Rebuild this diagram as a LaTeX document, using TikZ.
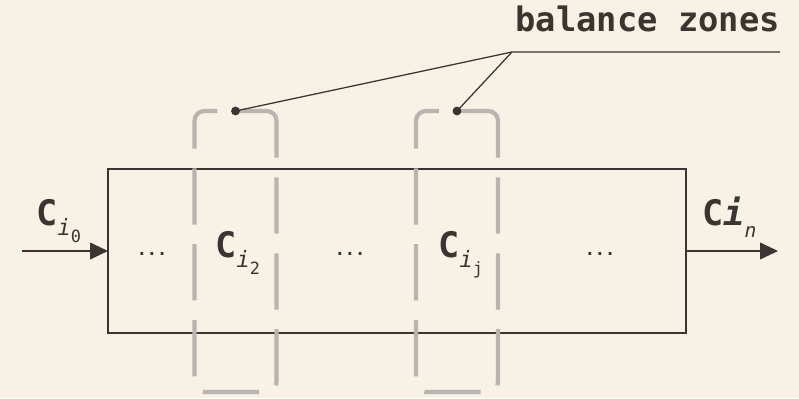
\documentclass[tikz,border=0pt]{standalone}
\usepackage{fontspec}
\setmonofont{DejaVu Sans Mono}
\usetikzlibrary{arrows.meta,positioning}
\definecolor{paper}{HTML}{F8F1E5}
\definecolor{ink}{HTML}{3A3530}
\definecolor{zonegray}{HTML}{B8B5B0}
\tikzset{
  flow/.style={-{Triangle[length=0.45cm,width=0.42cm]},ink,line width=1pt},
  vessel/.style={draw=ink,line width=1.1pt,minimum width=14.45cm,minimum height=4.1cm,inner sep=0pt,outer sep=0pt},
  zone/.style={draw=zonegray,line width=3pt,rounded corners=7pt,dash pattern=on 40pt off 14pt,dash phase=19pt,minimum width=2.05cm,minimum height=7.025cm,inner sep=0pt,outer sep=0pt},
  leader/.style={ink,line width=0.9pt},
  pindot/.style={circle,fill=ink,inner sep=0pt,minimum size=0.22cm},
  conc/.style={font=\ttfamily\fontsize{25}{25}\selectfont,text=ink,inner sep=0pt,anchor=base west},
  gapdots/.style={font=\ttfamily\bfseries\fontsize{12}{12}\selectfont,text=ink},
  tag/.style={font=\ttfamily\bfseries\fontsize{24}{24}\selectfont,text=ink,inner sep=0pt,anchor=base east}
}
\newcommand{\csub}[1]{\textbf{C}\raisebox{-0.3em}{\fontsize{16}{16}\selectfont\textit{i}\raisebox{-0.3em}{\fontsize{12}{12}\selectfont#1}}}

\begin{document}
\begin{tikzpicture}
\useasboundingbox[fill=paper] (0,0) rectangle (19.975,9.95);
\node[vessel] (reactor) at (9.925,3.675) {};
\coordinate (feed) at (0.55,3.675);
\coordinate (outlet) at (19.45,3.675);
\draw[flow] (feed) -- (reactor.west);
\draw[flow] (reactor.east) -- (outlet);
\node[zone] (zoneA) at (5.8875,3.6625) {};
\node[zone] (zoneB) at (11.425,3.6625) {};
\node[gapdots] (gapA) at (3.8,3.6) {...};
\node[gapdots] (gapB) at (8.75,3.6) {...};
\node[gapdots] (gapC) at (15.0,3.6) {...};
\node[conc] (cin) at (0.9,4.325) {\csub{0}};
\node[conc] (ctwo) at (5.375,3.525) {\csub{2}};
\node[conc] (cj) at (10.95,3.525) {\csub{j}};
\node[conc] (cout) at (17.55,4.325) {\textbf{C}\textbf{\textit{i}}\raisebox{-0.35em}{\fontsize{14}{14}\selectfont\textit{n}}};
\node[pindot] (dotA) at (zoneA.north) {};
\node[pindot] (dotB) at (zoneB.north) {};
\coordinate (hub) at (12.8,8.65);
\coordinate (tail) at (19.5,8.65);
\draw[leader] (dotA.center) -- (hub) -- (tail);
\draw[leader] (dotB.center) -- (hub);
\node[tag] (label) at (19.5,9.15) {balance zones};
\end{tikzpicture}
\end{document}
